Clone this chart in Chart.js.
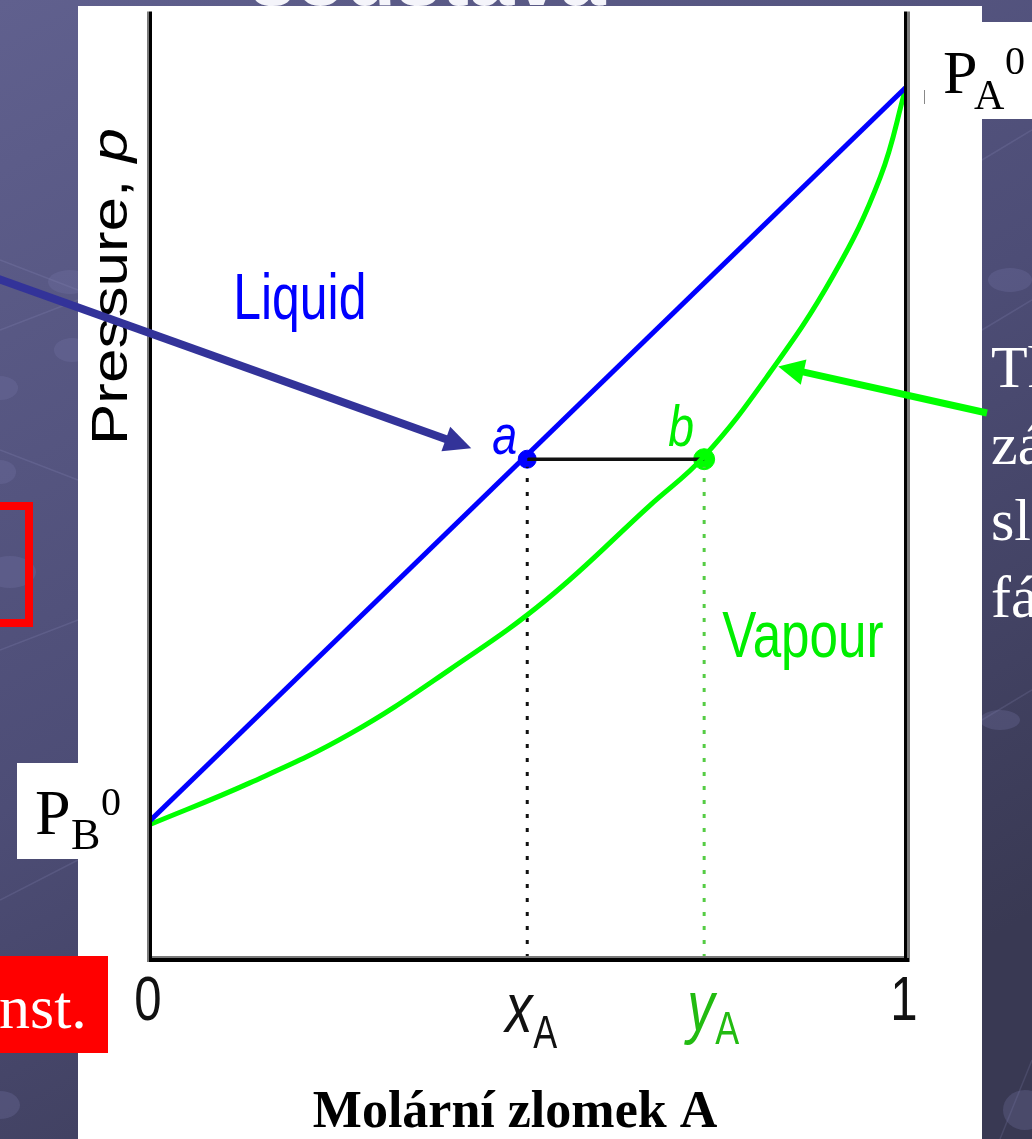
<!DOCTYPE html>
<html>
<head>
<meta charset="utf-8">
<script src="https://cdn.jsdelivr.net/npm/chart.js@4.4.1/dist/chart.umd.min.js"></script>
<style>
  html, body { margin: 0; padding: 0; width: 1032px; height: 1139px; overflow: hidden; background: #4a4a70; }
  canvas { display: block; }
</style>
</head>
<body>
<canvas id="chart" width="1032" height="1139"></canvas>
<script>
// liquid line (Raoult) and vapour curve, pressure in axis units 0..1
const liquidX = [0, 1];
const liquidP = [0.145, 0.92];
const vapourX = [0, 0.132, 0.265, 0.397, 0.525, 0.661, 0.733, 0.816, 0.903, 0.966, 1];
const vapourP = [0.141, 0.185, 0.237, 0.305, 0.379, 0.478, 0.53, 0.614, 0.72, 0.825, 0.92];

// tie line a-b
const xA = 0.499;
const yA = 0.733;
const pTie = 0.527;

const tickValues = [0, xA, yA, 1];
const tickLabels = ['0', 'x', 'y', '1'];

const SANS = '"Liberation Sans", Arial, sans-serif';
const SERIF = '"Liberation Serif", "Times New Roman", serif';

function pts(xs, ys) {
  return xs.map((x, i) => ({ x: x, y: ys[i] }));
}

function label(ctx, s, x, y, font, color, sx, align) {
  ctx.save();
  ctx.translate(x, y);
  ctx.scale(sx || 1, 1);
  ctx.font = font;
  ctx.fillStyle = color;
  ctx.textAlign = align || 'left';
  ctx.textBaseline = 'alphabetic';
  ctx.fillText(s, 0, 0);
  ctx.restore();
}

function arrow(ctx, x1, y1, x2, y2, color, w, headLen, headHalf) {
  const a = Math.atan2(y2 - y1, x2 - x1);
  const bx = x2 - headLen * Math.cos(a);
  const by = y2 - headLen * Math.sin(a);
  ctx.save();
  ctx.strokeStyle = color;
  ctx.fillStyle = color;
  ctx.lineWidth = w;
  ctx.beginPath();
  ctx.moveTo(x1, y1);
  ctx.lineTo(bx + 2 * Math.cos(a), by + 2 * Math.sin(a));
  ctx.stroke();
  ctx.beginPath();
  ctx.moveTo(x2, y2);
  ctx.lineTo(bx + headHalf * Math.sin(a), by - headHalf * Math.cos(a));
  ctx.lineTo(bx - headHalf * Math.sin(a), by + headHalf * Math.cos(a));
  ctx.closePath();
  ctx.fill();
  ctx.restore();
}

// slide background, white panel, boxes behind the plot
const slide = {
  id: 'slide',
  beforeDraw(chart) {
    const ctx = chart.ctx;
    const W = chart.width;
    const H = chart.height;
    ctx.save();
    const g = ctx.createLinearGradient(0, 0, W * 0.6, H);
    g.addColorStop(0, '#60608e');
    g.addColorStop(0.55, '#4d4d76');
    g.addColorStop(1, '#393953');
    ctx.fillStyle = g;
    ctx.fillRect(0, 0, W, H);

    // faint network pattern
    ctx.strokeStyle = 'rgba(160,160,210,0.16)';
    ctx.lineWidth = 1.5;
    [[0, 260, 78, 290], [0, 330, 78, 300], [0, 450, 78, 480], [0, 650, 78, 620],
     [0, 900, 78, 860], [982, 160, 1032, 130], [982, 330, 1032, 300], [982, 720, 1032, 690],
     [1000, 1139, 1032, 1060]].forEach(l => {
      ctx.beginPath(); ctx.moveTo(l[0], l[1]); ctx.lineTo(l[2], l[3]); ctx.stroke();
    });
    ctx.fillStyle = 'rgba(120,120,170,0.28)';
    [[70, 282, 22, 12], [72, 350, 18, 12], [0, 388, 18, 12], [0, 472, 16, 12], [10, 572, 26, 16],
     [0, 1105, 20, 14], [1010, 280, 22, 12], [1000, 720, 20, 10], [1025, 1110, 22, 20]].forEach(e => {
      ctx.beginPath(); ctx.ellipse(e[0], e[1], e[2], e[3], 0, 0, Math.PI * 2); ctx.fill();
    });

    // slide title, mostly hidden above the picture
    ctx.fillStyle = '#f4f4fa';
    ctx.font = 'bold 82px ' + SANS;
    ctx.textBaseline = 'alphabetic';
    ctx.fillText('soustava', 250, 5);

    // white picture and label boxes
    ctx.fillStyle = '#ffffff';
    ctx.fillRect(78, 6, 904, H - 6);
    ctx.fillRect(982, 22, 60, 97);
    ctx.fillRect(17, 763, 61, 96);
    ctx.restore();
  }
};

// frame, labels, arrows and slide text on top
const overlay = {
  id: 'overlay',
  afterDraw(chart) {
    const ctx = chart.ctx;
    const sx = chart.scales.x;
    const sy = chart.scales.y;
    const { left, right, top, bottom } = chart.chartArea;
    const px = v => sx.getPixelForValue(v);
    const py = v => sy.getPixelForValue(v);
    ctx.save();

    // frame: left, right, bottom (top is cut off)
    ctx.fillStyle = '#7a7a7a';
    ctx.fillRect(left - 3, top, 2, bottom - top + 4);
    ctx.fillRect(right + 1, top, 3, bottom - top + 4);
    ctx.fillRect(left, bottom - 2, right - left, 2);
    ctx.fillStyle = '#000000';
    ctx.fillRect(left - 1, top, 3, bottom - top + 4);
    ctx.fillRect(right - 2, top, 3, bottom - top + 4);
    ctx.fillRect(left - 1, bottom, right - left + 4, 4);

    // curve labels
    label(ctx, 'Liquid', px(0.11), py(0.675), '64px ' + SANS, '#0000ff', 0.78);
    label(ctx, 'Vapour', px(0.757), py(0.318), '64px ' + SANS, '#00ee00', 0.8);
    label(ctx, 'a', px(xA) - 35, py(pTie) - 5, 'italic 56px ' + SANS, '#0000ff', 0.8);
    label(ctx, 'b', px(yA) - 36, py(pTie) - 13, 'italic 58px ' + SANS, '#00ee00', 0.8);

    // x tick labels
    const tb = bottom + 62;
    tickValues.forEach((v, i) => {
      const x = px(v);
      if (tickLabels[i] === 'x') {
        label(ctx, 'x', x - 22, tb + 12, 'italic 70px ' + SANS, '#111111', 0.78);
        label(ctx, 'A', x + 6, tb + 28, '46px ' + SANS, '#111111', 0.78);
      } else if (tickLabels[i] === 'y') {
        label(ctx, 'y', x - 17, tb + 10, 'italic 70px ' + SANS, '#22bb11', 0.78);
        label(ctx, 'A', x + 11, tb + 24, '46px ' + SANS, '#22bb11', 0.78);
      } else {
        label(ctx, tickLabels[i], x - 2, tb, '63px ' + SANS, '#111111', 0.78, 'center');
      }
    });

    // y axis title, rotated
    ctx.save();
    ctx.translate(left - 23, 445);
    ctx.scale(0.82, 1);
    ctx.rotate(-Math.PI / 2);
    ctx.font = '62px ' + SANS;
    ctx.fillStyle = '#000000';
    ctx.textBaseline = 'alphabetic';
    ctx.fillText('Pressure, ', 0, 0);
    const w = ctx.measureText('Pressure, ').width;
    ctx.font = 'italic 62px ' + SANS;
    ctx.fillText('p', w, 0);
    ctx.restore();

    // x axis title (slide text)
    label(ctx, 'Molární zlomek A', 515, 1127, 'bold 52px ' + SERIF, '#000000', 1, 'center');

    // P_A^0 and P_B^0
    label(ctx, 'P', 943, 93, '62px ' + SERIF, '#000000');
    label(ctx, 'A', 974, 109, '42px ' + SERIF, '#000000');
    label(ctx, '0', 1005, 74, '40px ' + SERIF, '#000000');
    label(ctx, 'P', 35, 834, '64px ' + SERIF, '#000000');
    label(ctx, 'B', 71, 849, '44px ' + SERIF, '#000000');
    label(ctx, '0', 101, 815, '40px ' + SERIF, '#000000');
    ctx.fillStyle = '#888888';
    ctx.fillRect(924, 90, 1, 14);

    // red boxes on the slide
    ctx.strokeStyle = '#ff0000';
    ctx.lineWidth = 8;
    ctx.strokeRect(-20, 506, 49, 117);
    ctx.fillStyle = '#ff0000';
    ctx.fillRect(0, 956, 108, 97);
    label(ctx, 'nst.', -1, 1028, '62px ' + SERIF, '#ffffff');

    // slide text on the right, cut by the page edge
    ['Th', 'zá', 'sl', 'fá'].forEach((s, i) => {
      label(ctx, s, 991, 387 + i * 76.7, '60px ' + SERIF, '#ffffff');
    });

    // arrows
    arrow(ctx, -4, 278, px(xA) - 56, py(pTie) - 11, '#333399', 8, 27, 13);
    arrow(ctx, 987, 413, px(0.831), py(0.625), '#00ff00', 7, 26, 13);
    ctx.restore();
  }
};

new Chart(document.getElementById('chart').getContext('2d'), {
  type: 'line',
  data: {
    datasets: [
      {
        label: 'Liquid',
        data: pts(liquidX, liquidP),
        borderColor: '#0000ff',
        borderWidth: 5,
        pointRadius: 0,
        tension: 0,
      },
      {
        label: 'Vapour',
        data: pts(vapourX, vapourP),
        borderColor: '#00ff00',
        borderWidth: 5,
        pointRadius: 0,
        tension: 0.4,
      },
      {
        label: 'tie',
        data: pts([xA, yA], [pTie, pTie]),
        borderColor: '#111111',
        borderWidth: 3.5,
        pointRadius: 0,
      },
      {
        label: 'xA drop',
        data: pts([xA, xA], [0, pTie - 0.008]),
        borderColor: '#111111',
        borderWidth: 3,
        borderDash: [4, 10],
        pointRadius: 0,
      },
      {
        label: 'yA drop',
        data: pts([yA, yA], [0, pTie - 0.008]),
        borderColor: '#55cc44',
        borderWidth: 3,
        borderDash: [4, 10],
        pointRadius: 0,
      },
      {
        label: 'a',
        data: pts([xA], [pTie]),
        showLine: false,
        pointRadius: 9,
        pointBackgroundColor: '#0000ff',
        pointBorderColor: '#0000ff',
        pointBorderWidth: 1,
      },
      {
        label: 'b',
        data: pts([yA], [pTie]),
        showLine: false,
        pointRadius: 10.5,
        pointBackgroundColor: '#00ff00',
        pointBorderColor: '#00ff00',
        pointBorderWidth: 1,
      },
    ],
  },
  options: {
    responsive: false,
    animation: false,
    devicePixelRatio: 1,
    layout: { padding: { left: 150, right: 126, top: 6, bottom: 181 } },
    plugins: { legend: { display: false }, tooltip: { enabled: false } },
    scales: {
      x: { type: 'linear', min: 0, max: 1, display: false },
      y: { type: 'linear', min: 0, max: 1, display: false },
    },
  },
  plugins: [slide, overlay],
});
</script>
</body>
</html>
